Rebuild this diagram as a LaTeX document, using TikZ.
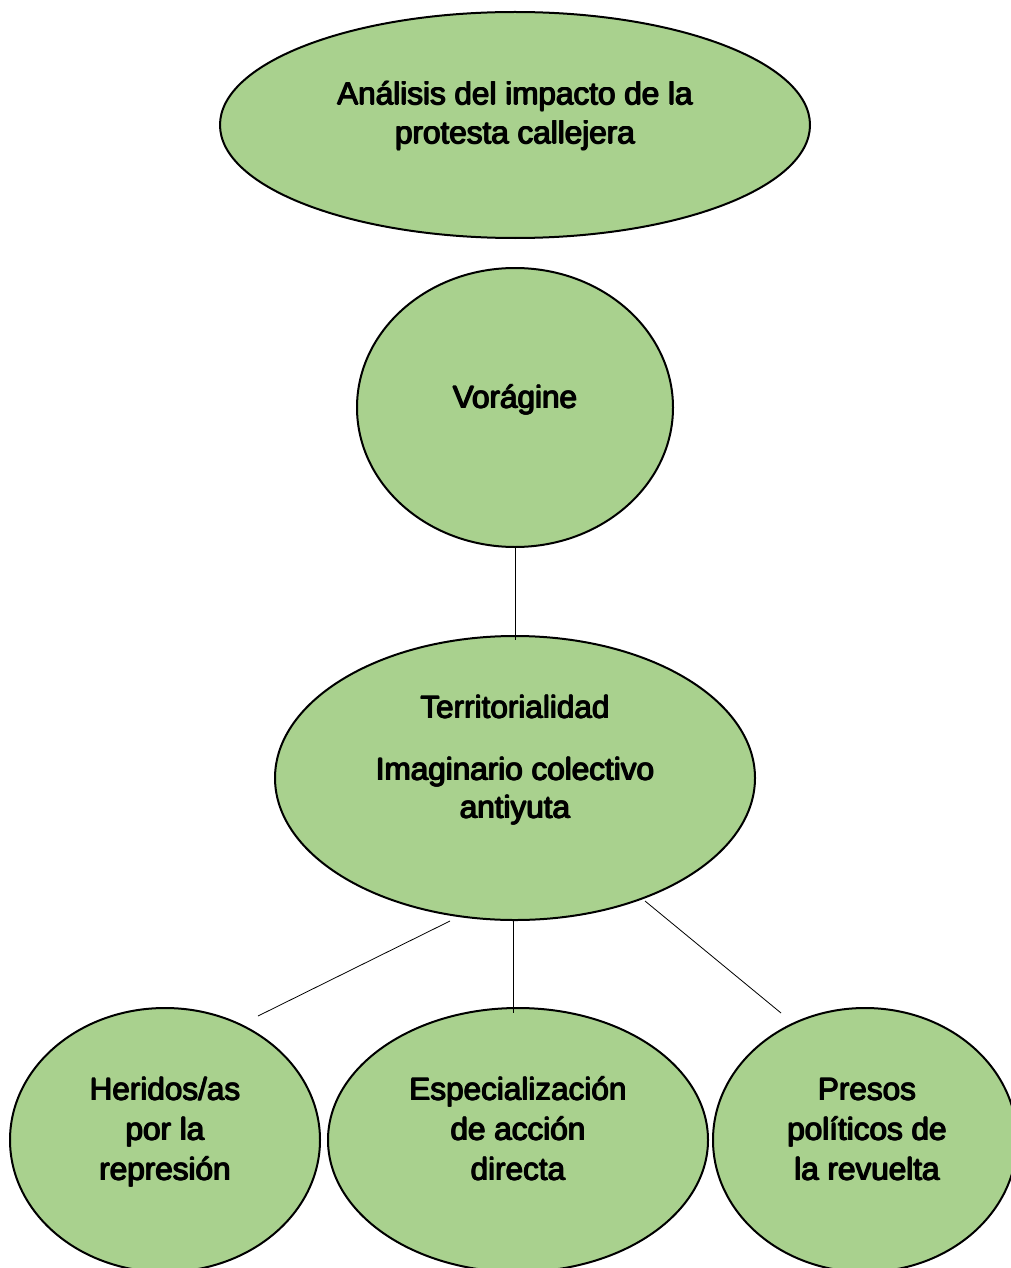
\documentclass[tikz,border=0pt]{standalone}
\usepackage{fontspec}
\setmainfont{Liberation Sans}
\usetikzlibrary{shapes.geometric}
\definecolor{leaf}{HTML}{A9D18E}
\newcommand{\heavy}[1]{\setbox0\hbox{#1}\rlap{\kern-0.7pt\copy0}\rlap{\kern0.7pt\copy0}\rlap{\raise0.7pt\copy0}\rlap{\lower0.7pt\copy0}\box0}
\begin{document}
\begin{tikzpicture}[x=1pt,y=-1pt,
  bub/.style={ellipse,draw=black,line width=2pt,fill=leaf,inner sep=0pt},
  lbl/.style={anchor=base,inner sep=0pt,font=\fontsize{31.5}{39}\selectfont},
  link/.style={draw=black,line width=0.8pt}]
\useasboundingbox (0,0) rectangle (1011,1268);
% ellipses
\node[bub,minimum width=590,minimum height=226] (top) at (515,125) {};
\node[bub,minimum width=316,minimum height=279] (vor) at (515,407.5) {};
\node[bub,minimum width=480,minimum height=284] (ter) at (515,778) {};
\node[bub,minimum width=310,minimum height=264] (her) at (165,1140) {};
\node[bub,minimum width=380,minimum height=264] (esp) at (518,1140) {};
\node[bub,minimum width=304,minimum height=264] (pre) at (865,1140) {};
% connectors
\coordinate (v1) at (515,547);
\coordinate (t1) at (515,640);
\coordinate (t2) at (450,921);
\coordinate (h1) at (258,1016);
\coordinate (t3) at (513,921);
\coordinate (e1) at (513,1013);
\coordinate (t4) at (645,901);
\coordinate (p1) at (781,1013);
\draw[link] (v1) -- (t1);
\draw[link] (t2) -- (h1);
\draw[link] (t3) -- (e1);
\draw[link] (t4) -- (p1);
% labels
\node[lbl] (topa) at (515,105) {\heavy{Análisis del impacto de la}};
\node[lbl] (topb) at (515,144) {\heavy{protesta callejera}};
\node[lbl] (vora) at (515,408) {\heavy{Vorágine}};
\node[lbl] (tera) at (515,718) {\heavy{Territorialidad}};
\node[lbl] (terb) at (515,780) {\heavy{Imaginario colectivo}};
\node[lbl] (terc) at (515,818) {\heavy{antiyuta}};
\node[lbl] (hera) at (165,1100) {\heavy{Heridos/as}};
\node[lbl] (herb) at (165,1140) {\heavy{por la}};
\node[lbl] (herc) at (165,1180) {\heavy{represión}};
\node[lbl] (espa) at (518,1100) {\heavy{Especialización}};
\node[lbl] (espb) at (518,1140) {\heavy{de acción}};
\node[lbl] (espc) at (518,1180) {\heavy{directa}};
\node[lbl] (prea) at (867,1100) {\heavy{Presos}};
\node[lbl] (preb) at (867,1140) {\heavy{políticos de}};
\node[lbl] (prec) at (867,1180) {\heavy{la revuelta}};
\end{tikzpicture}
\end{document}
